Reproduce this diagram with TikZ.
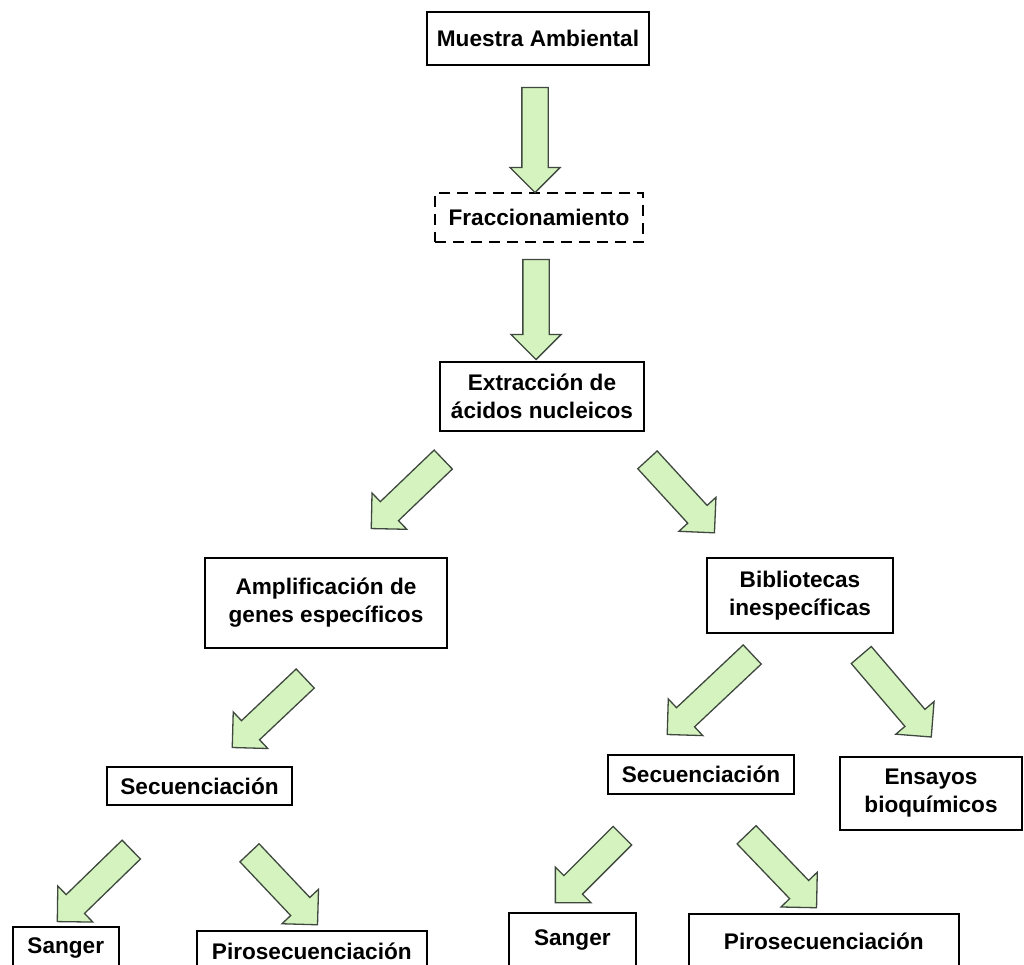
\documentclass[tikz,border=0pt]{standalone}
\usepackage{fontspec}
\setmainfont{Liberation Sans}
\usetikzlibrary{shapes.arrows,calc}

\definecolor{flechafill}{RGB}{212,243,190}
\definecolor{flechaline}{RGB}{62,72,62}

% block arrow between two named points
\newcommand{\flecha}[2]{\path let \p1=($(#2)-(#1)$), \n1={atan2(\y1,\x1)}, \n2={veclen(\x1,\y1)} in node[flecha, rotate=\n1, minimum height=\n2] at ($(#1)!0.5!(#2)$) {};}

\begin{document}
\begin{tikzpicture}[x=1pt, y=-1pt,
  caja/.style={draw, line width=1.6pt, inner sep=0pt, align=center, font=\fontsize{22.6}{28}\selectfont\bfseries},
  flecha/.style={single arrow, draw=flechaline, fill=flechafill, line width=1.3pt, inner xsep=0pt, inner ysep=12.5pt, single arrow head extend=12pt, single arrow tip angle=90, outer sep=0pt}]
\useasboundingbox (0,0) rectangle (1024,965);
\clip (0,0) rectangle (1024,965);

\node[caja, minimum width=222, minimum height=53] (muestra) at (538,38.5) {Muestra Ambiental};
\node[caja, dash pattern=on 11pt off 7pt, minimum width=208, minimum height=49] (fracc) at (539,217.5) {Fraccionamiento};
\node[caja, minimum width=204, minimum height=69] (extrac) at (542,396.5) {Extracción de\\ácidos nucleicos};

\node[caja, minimum width=242, minimum height=90] (amplif) at (326,603) {Amplificación de\\genes específicos};
\node[caja, minimum width=186, minimum height=75] (biblio) at (800,595.5) {Bibliotecas\\inespecíficas};

\node[caja, minimum width=185, minimum height=38] (secA) at (199.5,786) {Secuenciación};
\node[caja, minimum width=186, minimum height=39] (secB) at (701,774.5) {Secuenciación};
\node[caja, minimum width=182, minimum height=73] (ensayos) at (931,793.5) {Ensayos\\bioquímicos};

\node[caja, anchor=north west, minimum width=106, minimum height=42] (sangerA) at (12,926) {Sanger};
\node[caja, anchor=north west, minimum width=230, minimum height=42] (piroA) at (196,930) {Pirosecuenciación};
\node[caja, anchor=north west, minimum width=127, minimum height=55] (sangerB) at (508,912) {Sanger};
\node[caja, anchor=north west, minimum width=270, minimum height=55] (piroB) at (688,913) {Pirosecuenciación};

\coordinate (f1a) at (535,81);  \coordinate (f1b) at (535,186);
\coordinate (f2a) at (536,253); \coordinate (f2b) at (536,353);
\coordinate (f3a) at (448,455); \coordinate (f3b) at (376,524);
\coordinate (f4a) at (643,455); \coordinate (f4b) at (710,528);
\coordinate (f5a) at (310,674); \coordinate (f5b) at (237,743);
\coordinate (f6a) at (136,845); \coordinate (f6b) at (62,917);
\coordinate (f7a) at (245,848); \coordinate (f7b) at (313,920);
\coordinate (f8a) at (757,650); \coordinate (f8b) at (672,730);
\coordinate (f9a) at (857,650); \coordinate (f9b) at (927,732);
\coordinate (f10a) at (627,831); \coordinate (f10b) at (560,898);
\coordinate (f11a) at (742,830); \coordinate (f11b) at (812,903);

\flecha{f1a}{f1b}
\flecha{f2a}{f2b}
\flecha{f3a}{f3b}
\flecha{f4a}{f4b}
\flecha{f5a}{f5b}
\flecha{f6a}{f6b}
\flecha{f7a}{f7b}
\flecha{f8a}{f8b}
\flecha{f9a}{f9b}
\flecha{f10a}{f10b}
\flecha{f11a}{f11b}
\end{tikzpicture}
\end{document}
